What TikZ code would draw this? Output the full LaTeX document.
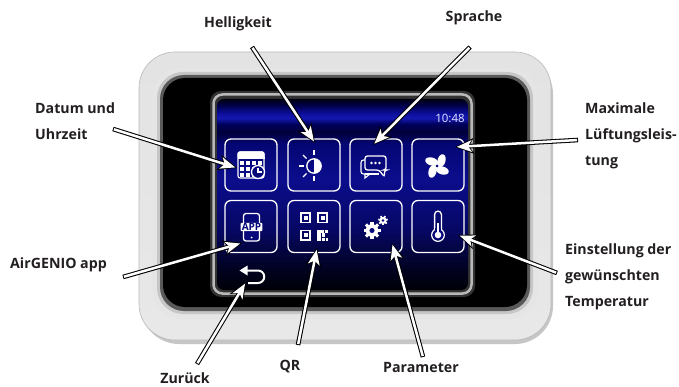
\documentclass[tikz,border=0pt]{standalone}
\usepackage{fontspec}
\setmainfont{Open Sans}
\newfontfamily\clockfont{Noto Sans}
\usetikzlibrary{arrows.meta,calc}

\definecolor{labeltext}{HTML}{231F20}
\definecolor{scrn}{HTML}{07087A}
\definecolor{sA}{HTML}{000008}
\definecolor{sB}{HTML}{01021F}
\definecolor{sC}{HTML}{060764}
\definecolor{sD}{HTML}{0B0D8C}
\definecolor{sE}{HTML}{050674}
\definecolor{sF}{HTML}{00003A}
\definecolor{sG}{HTML}{00005A}
\definecolor{sH}{HTML}{1518B0}
\definecolor{sI}{HTML}{0C0E9A}
\definecolor{sJ}{HTML}{000048}
\definecolor{sK}{HTML}{000010}

% vertical colour ramp of the display (inner 25bp..75bp = display height)
\pgfdeclareverticalshading{screenglow}{100bp}{%
  color(0bp)=(sA); color(25bp)=(sA); color(30.3bp)=(sB); color(40.8bp)=(sC);
  color(54bp)=(sD); color(63.2bp)=(sE); color(66.3bp)=(sF); color(68.4bp)=(sG);
  color(70bp)=(sH); color(71.3bp)=(sI); color(73.4bp)=(sJ); color(75bp)=(sK);
  color(100bp)=(sK)}

% gear: centre x, centre y, body radius, number of teeth
\newcommand\drawgear[4]{%
  \begin{scope}[shift={(#1,#2)}]
    \fill[white] (0,0) circle (#3);
    \foreach \k in {1,...,#4}
      {\fill[white, rotate=\k*360/#4] (-0.24*#3,0) rectangle (0.24*#3,1.35*#3);}
    \fill[scrn] (0,0) circle (0.4*#3);
  \end{scope}}

% white pointer with black outline
\newcommand\drawpointer[2]{%
  \draw[pointerouter] (#1) -- (#2);
  \draw[pointerinner] (#1) -- (#2);}

\begin{document}
\begin{tikzpicture}[x=1pt,y=-1pt,
  lbl/.style={font=\bfseries\fontsize{14.2}{26}\selectfont, text=labeltext,
              inner sep=0pt, align=left},
  btn/.style={draw=white, line width=1.3pt, rounded corners=6pt,
              minimum width=52pt, minimum height=52pt, inner sep=0pt},
  icon/.style={white, line width=1.3pt},
  pointerouter/.style={black, line width=4.6pt,
     -{Stealth[length=19pt, width=16pt, inset=5pt, line width=0pt]}},
  pointerinner/.style={white, line width=2.5pt, shorten <=1pt, shorten >=1.9pt,
     -{Stealth[length=15pt, width=12pt, inset=4pt, line width=0pt]}}]

\useasboundingbox (0,0) rectangle (679,387);
\fill[white] (0,0) rectangle (679,387);

% ---------- housing ----------
\fill[gray!45, rounded corners=38pt] (141,56) rectangle (553,344);
\shade[rounded corners=36pt, top color=gray!22, middle color=white,
       bottom color=gray!18, draw=gray!55, line width=0.6pt]
       (139,52) rectangle (551,340);
\fill[gray!20, rounded corners=28pt] (153,68) rectangle (537,319);
\fill[gray!45, rounded corners=26pt] (157,72) rectangle (533,314);
\fill[gray!70!black, rounded corners=24pt] (160,75) rectangle (530,311);
\fill[black, rounded corners=22pt] (163,78) rectangle (527,307);

% ---------- display ----------
\fill[gray!40!black, rounded corners=11pt] (210,91) rectangle (475,297);
\draw[gray!55, line width=2.5pt, rounded corners=9pt] (213.5,94.5) rectangle (471.5,293.5);
\shade[shading=screenglow, rounded corners=7pt] (217,99) rectangle (468,290);

\node[font=\clockfont\fontsize{11.5}{12}\selectfont, text=white!85!blue, inner sep=0pt]
  (clock) at (450,118) {10:48};

% ---------- buttons ----------
\node[btn] (b1) at (251,165) {};
\node[btn] (b2) at (314,165) {};
\node[btn] (b3) at (376,165) {};
\node[btn] (b4) at (438,165) {};
\node[btn] (b5) at (251,226.5) {};
\node[btn] (b6) at (314,226.5) {};
\node[btn] (b7) at (376,226.5) {};
\node[btn] (b8) at (438,226.5) {};

% calendar with clock
\begin{scope}[shift={(b1.center)}]
  \draw[icon, line width=1.1pt, rounded corners=2pt] (-13,-13) rectangle (13,13);
  \fill[white, rounded corners=2pt] (-13.5,-13.5) rectangle (13.5,-6);
  \fill[white] (-13.5,-8) rectangle (13.5,-6);
  \foreach \i in {0,...,3}
    {\foreach \j in {0,...,2}
      {\fill[white] (-11+6*\i,-4+6*\j) rectangle (-7+6*\i,0+6*\j);}}
  \filldraw[fill=scrn, draw=white, line width=1.3pt] (7,7) circle (6.5);
  \draw[white, line width=1.1pt] (7,3) -- (7,7) -- (10.5,7);
\end{scope}

% brightness
\begin{scope}[shift={(b2.center)}]
  \draw[icon] (0,1) circle (7.2);
  \fill[white] (0,-6.2) arc[start angle=-90, end angle=90, radius=7.2] -- cycle;
  \foreach \dx/\dy in {0/-1, 0/1, -1/0, -0.707/-0.707, -0.707/0.707}
    {\draw[icon] ($(0,1)+10.5*(\dx,\dy)$) -- ($(0,1)+15.5*(\dx,\dy)$);}
\end{scope}

% speech bubbles
\begin{scope}[shift={(b3.center)}]
  \draw[icon, line width=1.1pt, rounded corners=2.5pt]
    (-9,9) -- (-15,9) -- (-15,-5) -- (-11,-5);
  \draw[icon, line width=1.1pt] (-11,9) -- (-11,13) -- (-6,9);
  \draw[icon, line width=1.1pt] (-11,9) -- (3,9);
  \filldraw[fill=scrn, draw=white, line width=1.3pt, rounded corners=2.5pt]
    (-11,-9) -- (10,-9) -- (10,5) -- (8.5,5) -- (8.5,12) -- (3,5) -- (-11,5) -- cycle;
  \foreach \x in {-4.5,-0.5,3.5} {\fill[white] (\x,-2) circle (1.3);}
\end{scope}

% fan
\begin{scope}[shift={(b4.center)}, shift={(-1,1)}]
  \foreach \a in {-40,50,140,230}
    {\fill[white, rotate=\a, rotate around={25:(7,0)}] (7,0) ellipse [x radius=6.5, y radius=4];}
  \filldraw[fill=scrn, draw=white, line width=1pt] (0,0) circle (2);
\end{scope}

% app on phone
\begin{scope}[shift={(b5.center)}]
  \filldraw[fill=scrn, draw=white, line width=1.3pt, rounded corners=2.5pt]
    (-7.5,-13) rectangle (8.5,14.5);
  \fill[white] (0.5,11) circle (1);
\end{scope}
\node[fill=white, text=scrn, rounded corners=1pt, inner xsep=1.2pt, inner ysep=0.5pt,
      font=\bfseries\fontsize{10}{10}\selectfont] (apptag) at ($(b5.center)+(0.5,0.5)$) {APP};

% QR code
\begin{scope}[shift={(b6.center)}]
  \foreach \x/\y in {-14/-14, 3/-14, -14/3} {
    \draw[white, line width=1.7pt] (\x+0.85,\y+0.85) rectangle (\x+10.15,\y+10.15);
    \fill[white] (\x+3.5,\y+3.5) rectangle (\x+7.5,\y+7.5);
  }
  \fill[white] (3,3) rectangle (6.5,14);
  \fill[white] (6.5,3) rectangle (10,6.5);
  \fill[white] (8,6.5) rectangle (11,10);
  \fill[white] (11,3) rectangle (14,6);
  \fill[white] (8,11.5) rectangle (10.5,14);
  \fill[white] (11.5,11.5) rectangle (14,14);
\end{scope}

% gears
\begin{scope}[shift={(b7.center)}]
  \drawgear{-4}{4}{6.3}{8}
  \drawgear{7}{-6}{3.6}{7}
\end{scope}

% thermometer
\begin{scope}[shift={(b8.center)}]
  \draw[icon] (-3.4,3.5) -- (-3.4,-12) arc[start angle=180, end angle=360, radius=3.4] -- (3.4,3.5);
  \draw[icon] (0,8.5) circle (6.3);
  \fill[scrn] (-2.7,1) rectangle (2.7,5);
  \fill[scrn] (0,8.5) circle (5.6);
  \fill[white] (0,8.5) circle (3.3);
  \draw[white, line width=2pt] (0,8) -- (0,-3);
\end{scope}

% back symbol
\draw[white, line width=2pt] (246,270.5) -- (258,270.5)
  arc[start angle=-90, end angle=90, radius=6.25] -- (248,283);
\fill[white] (239.5,270.5) -- (247.5,265.5) -- (247.5,275.5) -- cycle;

% ---------- labels ----------
\node[lbl, anchor=base] (lhell) at (238,28) {Helligkeit};
\node[lbl, anchor=base] (lspr) at (474,21.5) {Sprache};
\node[lbl, anchor=base west] (ldat) at (35,140) {Datum und\\Uhrzeit};
\node[lbl, anchor=base west] (lapp) at (10,268) {AirGENIO app};
\node[lbl, anchor=base west] (lmax) at (585,166) {Maximale\\Lüftungsleis-\\tung};
\node[lbl, anchor=base west] (ltemp) at (565,306) {Einstellung der\\gewünschten\\Temperatur};
\node[lbl, anchor=base] (lback) at (185,383.5) {Zurück};
\node[lbl, anchor=base] (lqr) at (290,370) {QR};
\node[lbl, anchor=base] (lpar) at (421,372) {Parameter};

% ---------- pointers ----------
\coordinate (hell-tail) at (252,47);   \coordinate (hell-tip) at (315,143);
\coordinate (spr-tail) at (470,47);    \coordinate (spr-tip) at (373,145);
\coordinate (dat-tail) at (113,129);   \coordinate (dat-tip) at (237,168);
\coordinate (app-tail) at (123,277);   \coordinate (app-tip) at (242,243);
\coordinate (max-tail) at (578,140);   \coordinate (max-tip) at (455,147);
\coordinate (temp-tail) at (557,273);  \coordinate (temp-tip) at (458,235);
\coordinate (back-tail) at (197,364);  \coordinate (back-tip) at (246,282);
\coordinate (qr-tail) at (298,345);    \coordinate (qr-tip) at (317,248);
\coordinate (par-tail) at (423,357);   \coordinate (par-tip) at (392,243);

\drawpointer{hell-tail}{hell-tip}
\drawpointer{spr-tail}{spr-tip}
\drawpointer{dat-tail}{dat-tip}
\drawpointer{app-tail}{app-tip}
\drawpointer{max-tail}{max-tip}
\drawpointer{temp-tail}{temp-tip}
\drawpointer{back-tail}{back-tip}
\drawpointer{qr-tail}{qr-tip}
\drawpointer{par-tail}{par-tip}

\end{tikzpicture}
\end{document}
